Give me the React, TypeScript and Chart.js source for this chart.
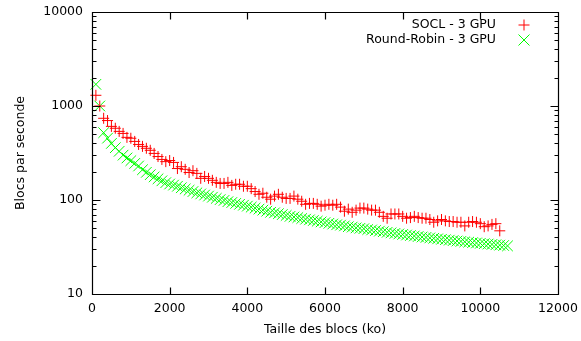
import React, { useEffect, useRef } from "react";
import { Chart, registerables } from "chart.js";

Chart.register(...registerables);

// Block sizes (ko)
const sizesSocl = [
  100, 200, 300, 400, 500, 600, 700, 800, 900, 1000,
  1100, 1200, 1300, 1400, 1500, 1600, 1700, 1800, 1900, 2000,
  2100, 2200, 2300, 2400, 2500, 2600, 2700, 2800, 2900, 3000,
  3100, 3200, 3300, 3400, 3500, 3600, 3700, 3800, 3900, 4000,
  4100, 4200, 4300, 4400, 4500, 4600, 4700, 4800, 4900, 5000,
  5100, 5200, 5300, 5400, 5500, 5600, 5700, 5800, 5900, 6000,
  6100, 6200, 6300, 6400, 6500, 6600, 6700, 6800, 6900, 7000,
  7100, 7200, 7300, 7400, 7500, 7600, 7700, 7800, 7900, 8000,
  8100, 8200, 8300, 8400, 8500, 8600, 8700, 8800, 8900, 9000,
  9100, 9200, 9300, 9400, 9500, 9600, 9700, 9800, 9900, 10000,
  10100, 10200, 10300, 10400, 10500,
];

// Blocs par seconde - SOCL
const soclValues = [
  1300, 1000, 740, 700, 607, 580, 537, 511, 464, 454,
  420, 390, 372, 355, 338, 313, 290, 270, 256, 263,
  251, 216, 226, 212, 196, 205, 192, 170, 178, 170,
  162, 154, 150, 150, 154, 143, 147, 147, 140, 140,
  132, 123, 115, 118, 107, 102, 110, 115, 107, 104,
  104, 110, 102, 97, 90, 92, 92, 90, 86, 88,
  90, 88, 90, 84, 76, 80, 74, 78, 82, 82,
  80, 78, 78, 74, 67, 64, 71, 71, 71, 67,
  64, 65, 67, 65, 64, 64, 62, 58, 60, 62,
  60, 59, 59, 58, 58, 53, 58, 59, 58, 56,
  52, 53, 55, 56, 47,
];

const sizesRR = [
  100, 200, 300, 400, 500, 600, 700, 800, 900, 1000,
  1100, 1200, 1300, 1400, 1500, 1600, 1700, 1800, 1900, 2000,
  2100, 2200, 2300, 2400, 2500, 2600, 2700, 2800, 2900, 3000,
  3100, 3200, 3300, 3400, 3500, 3600, 3700, 3800, 3900, 4000,
  4100, 4200, 4300, 4400, 4500, 4600, 4700, 4800, 4900, 5000,
  5100, 5200, 5300, 5400, 5500, 5600, 5700, 5800, 5900, 6000,
  6100, 6200, 6300, 6400, 6500, 6600, 6700, 6800, 6900, 7000,
  7100, 7200, 7300, 7400, 7500, 7600, 7700, 7800, 7900, 8000,
  8100, 8200, 8300, 8400, 8500, 8600, 8700, 8800, 8900, 9000,
  9100, 9200, 9300, 9400, 9500, 9600, 9700, 9800, 9900, 10000,
  10100, 10200, 10300, 10400, 10500, 10600, 10700,
];

// Blocs par seconde - Round-Robin
const rrValues = [
  1700, 1000, 520, 455, 400, 360, 330, 300, 280, 262,
  245, 230, 210, 197, 186, 176, 168, 160, 153, 148,
  144, 140, 135, 131, 127, 123, 119, 116, 113, 110,
  107, 104, 101, 99, 96, 94, 92, 90, 88, 86,
  84, 82, 80, 78, 76, 74, 73, 71.5, 70, 68.5,
  67, 66, 65, 63.5, 62.5, 61.5, 60.5, 59.5, 58.5, 57.5,
  56.5, 55.5, 54.5, 54, 53, 52, 51.5, 50.5, 50, 49.5,
  48.5, 48, 47.3, 46.6, 46, 45.3, 44.7, 44.1, 43.5, 43,
  42.4, 41.9, 41.4, 40.9, 40.4, 40, 39.5, 39.1, 38.6, 38.2,
  37.8, 37.4, 37, 36.6, 36.3, 35.9, 35.6, 35.2, 34.9, 34.6,
  34.3, 34, 33.7, 33.4, 33.1, 32.8, 32.5,
];

const xTickValues = [0, 2000, 4000, 6000, 8000, 10000, 12000];
const yTickValues = [10, 100, 1000, 10000];

const seriesLabels = ["SOCL - 3 GPU", "Round-Robin - 3 GPU"];
const seriesColors = ["#ff0000", "#00ff00"];

const FONT = "DejaVu Sans";
const FONT_SIZE = 12.5;

const gnuplotFrame = {
  id: "gnuplotFrame",
  afterDraw(chart: any) {
    const { ctx, chartArea: a, scales } = chart;
    const xs = scales.x;
    const ys = scales.y;
    ctx.save();
    ctx.strokeStyle = "#000";
    ctx.lineWidth = 1.2;
    const L = Math.round(a.left) + 0.5;
    const R = Math.round(a.right) + 0.5;
    const T = Math.round(a.top) + 0.5;
    const B = Math.round(a.bottom) + 0.5;
    ctx.beginPath();
    ctx.rect(L, T, R - L, B - T);
    const major = 7;
    const minor = 4;
    for (const v of xTickValues) {
      const p = Math.round(xs.getPixelForValue(v)) + 0.5;
      ctx.moveTo(p, B);
      ctx.lineTo(p, B - major);
      ctx.moveTo(p, T);
      ctx.lineTo(p, T + major);
    }
    for (const v of yTickValues) {
      const p = Math.round(ys.getPixelForValue(v)) + 0.5;
      ctx.moveTo(L, p);
      ctx.lineTo(L + major + 1, p);
      ctx.moveTo(R, p);
      ctx.lineTo(R - major - 1, p);
      if (v < 10000) {
        for (let m = 2; m <= 9; m++) {
          const q = Math.round(ys.getPixelForValue(v * m)) + 0.5;
          ctx.moveTo(L, q);
          ctx.lineTo(L + minor, q);
          ctx.moveTo(R, q);
          ctx.lineTo(R - minor, q);
        }
      }
    }
    ctx.stroke();

    // Legend (gnuplot style, inside top right)
    ctx.font = `${FONT_SIZE}px "${FONT}"`;
    ctx.fillStyle = "#000";
    ctx.textAlign = "right";
    ctx.textBaseline = "middle";
    const textRight = a.right - 62;
    const markX = a.right - 34;
    chart.data.datasets.forEach((ds: any, i: number) => {
      const y = a.top + 13 + i * 15;
      ctx.fillText(ds.label, textRight, y);
      ctx.strokeStyle = ds.borderColor;
      ctx.lineWidth = 1;
      ctx.beginPath();
      if (i === 0) {
        ctx.moveTo(markX - 5.5, y);
        ctx.lineTo(markX + 5.5, y);
        ctx.moveTo(markX, y - 5.5);
        ctx.lineTo(markX, y + 5.5);
      } else {
        ctx.moveTo(markX - 5.5, y - 5.5);
        ctx.lineTo(markX + 5.5, y + 5.5);
        ctx.moveTo(markX - 5.5, y + 5.5);
        ctx.lineTo(markX + 5.5, y - 5.5);
      }
      ctx.stroke();
    });
    ctx.restore();
  },
};

export default function App() {
  const canvasRef = useRef<HTMLCanvasElement | null>(null);

  useEffect(() => {
    const canvas = canvasRef.current;
    if (!canvas) return;
    const chart = new Chart(canvas, {
      type: "scatter",
      data: {
        datasets: [
          {
            label: seriesLabels[0],
            data: sizesSocl.map((x, i) => ({ x, y: soclValues[i] })),
            borderColor: seriesColors[0],
            backgroundColor: seriesColors[0],
            pointStyle: "cross",
            pointRadius: 5.5,
            pointBorderWidth: 1,
            showLine: false,
            clip: false,
          },
          {
            label: seriesLabels[1],
            data: sizesRR.map((x, i) => ({ x, y: rrValues[i] })),
            borderColor: seriesColors[1],
            backgroundColor: seriesColors[1],
            pointStyle: "crossRot",
            pointRadius: 7.5,
            pointBorderWidth: 1,
            showLine: false,
            clip: false,
          },
        ],
      },
      options: {
        responsive: false,
        animation: false,
        events: [],
        layout: { padding: { top: 12, right: 23, left: 0, bottom: 0 } },
        plugins: {
          legend: { display: false },
          tooltip: { enabled: false },
        },
        scales: {
          x: {
            type: "linear",
            min: 0,
            max: 12000,
            afterBuildTicks: (scale: any) => {
              scale.ticks = xTickValues.map((v) => ({ value: v }));
            },
            afterFit: (scale: any) => {
              scale.height = 47;
              scale.paddingLeft = 0;
              scale.paddingRight = 0;
            },
            grid: { display: false, drawTicks: false },
            border: { display: false },
            ticks: {
              padding: 7,
              color: "#000",
              maxRotation: 0,
              font: { family: FONT, size: FONT_SIZE },
              callback: (v: any) => String(v),
            },
            title: {
              display: true,
              text: "Taille des blocs (ko)",
              color: "#000",
              font: { family: FONT, size: FONT_SIZE },
              padding: { top: 0, bottom: 4 },
            },
          },
          y: {
            type: "logarithmic",
            min: 10,
            max: 10000,
            afterBuildTicks: (scale: any) => {
              scale.ticks = yTickValues.map((v) => ({ value: v }));
            },
            afterFit: (scale: any) => {
              scale.width = 92;
              scale.paddingTop = 0;
              scale.paddingBottom = 0;
            },
            grid: { display: false, drawTicks: false },
            border: { display: false },
            ticks: {
              padding: 9,
              color: "#000",
              font: { family: FONT, size: FONT_SIZE },
              callback: (v: any) => String(v),
            },
            title: {
              display: true,
              text: "Blocs par seconde",
              color: "#000",
              font: { family: FONT, size: FONT_SIZE },
              padding: { top: 13, bottom: 0 },
            },
          },
        },
      },
      plugins: [gnuplotFrame],
    } as any);
    return () => chart.destroy();
  }, []);

  return (
    <div style={{ position: "absolute", left: 0, top: 0, width: 581, height: 341, background: "#fff" }}>
      <canvas ref={canvasRef} width={581} height={341} style={{ display: "block" }} />
    </div>
  );
}
